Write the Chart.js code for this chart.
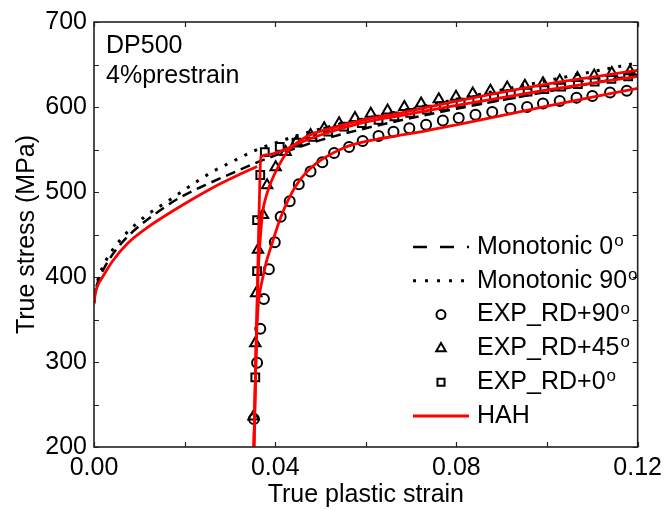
<!DOCTYPE html>
<html>
<head>
<meta charset="utf-8">
<script src="https://cdn.jsdelivr.net/npm/chart.js@4.4.0/dist/chart.umd.min.js"></script>
<style>
  html, body { margin: 0; padding: 0; background: #fff; }
  #wrap { width: 668px; height: 510px; }
</style>
</head>
<body>
<div id="wrap"><canvas id="c"></canvas></div>
<script>
// axis ticks
const xTickValues = [0, 0.04, 0.08, 0.12];
const yTickValues = [200, 300, 400, 500, 600, 700];

// monotonic curves
const mono0Strain = [0, 0.0003, 0.001, 0.0025, 0.005, 0.0085, 0.0137, 0.0188, 0.0245, 0.030, 0.0356, 0.04, 0.05, 0.06, 0.07, 0.08, 0.09, 0.10, 0.11, 0.12];
const mono0Stress = [370, 383, 396, 413, 433, 453, 475, 493, 508, 521, 534, 543, 561, 575, 587, 598, 608, 618, 628, 638];
const mono90Strain = [0, 0.0003, 0.001, 0.0025, 0.0057, 0.0110, 0.0168, 0.0209, 0.0262, 0.0310, 0.0356, 0.0391, 0.0465, 0.056, 0.0668, 0.08, 0.10, 0.12];
const mono90Stress = [370, 384, 399, 418, 443, 470, 491, 506, 524, 537, 549, 556, 569, 582, 594, 609, 631, 652];

// HAH model
const hahPreStrain = [0, 0.0003, 0.001, 0.0019, 0.004, 0.0075, 0.012, 0.0172, 0.0262, 0.0319, 0.0360];
const hahPreStress = [368, 381, 392, 400, 418, 440, 459, 477, 505, 520, 530];
const hah0Strain = [0.0353, 0.0358, 0.0362, 0.0365, 0.0368, 0.0385, 0.0412, 0.0450, 0.0500, 0.0560, 0.0624, 0.0668, 0.08, 0.10, 0.12];
const hah0Stress = [200, 320, 420, 490, 541, 544, 548, 557, 567, 577, 585, 589, 602, 620, 636];
const hah45Strain = [0.0353, 0.0358, 0.0362, 0.0367, 0.0372, 0.0380, 0.0391, 0.0410, 0.0428, 0.0465, 0.0537, 0.0624, 0.0668, 0.08, 0.10, 0.12];
const hah45Stress = [200, 320, 400, 445, 475, 495, 512, 533, 548, 564, 577, 588, 592, 607, 627, 643];
const hah90Strain = [0.0353, 0.0358, 0.0363, 0.0367, 0.0370, 0.0380, 0.0391, 0.0412, 0.0443, 0.0478, 0.0552, 0.0624, 0.0668, 0.0733, 0.08, 0.10, 0.12];
const hah90Stress = [200, 320, 370, 385, 393, 417, 436, 470, 505, 528, 552, 562, 566, 572, 579, 601, 622];

// experiments
const exp90Strain = [0.0353, 0.0360, 0.0367, 0.0375, 0.0386, 0.0399, 0.0412, 0.0432, 0.0452, 0.0478, 0.0504, 0.0530, 0.0563, 0.0593, 0.0628, 0.0661, 0.0696, 0.0733, 0.0770, 0.0805, 0.0842, 0.0879, 0.0919, 0.0956, 0.0991, 0.1028, 0.1065, 0.1100, 0.1139, 0.1176];
const exp90Stress = [233, 299, 339, 374, 409, 441, 471, 489, 509, 524, 535, 546, 553, 560, 566, 571, 575, 579, 584, 587, 591, 594, 598, 600, 604, 607, 611, 613, 617, 619];
const exp45Strain = [0.0352, 0.0356, 0.0358, 0.0362, 0.0373, 0.0382, 0.0401, 0.0423, 0.0447, 0.0478, 0.0508, 0.0541, 0.0576, 0.0611, 0.0648, 0.0685, 0.0722, 0.0761, 0.0799, 0.0836, 0.0875, 0.0912, 0.0951, 0.0991, 0.1028, 0.1067, 0.1104, 0.1143, 0.1183];
const exp45Stress = [236, 322, 381, 432, 473, 508, 529, 547, 559, 567, 575, 581, 587, 592, 596, 600, 604, 609, 612, 616, 619, 623, 625, 628, 631, 634, 637, 640, 642];
const exp0Strain = [0.0356, 0.0360, 0.0360, 0.0367, 0.0377, 0.0410, 0.0447, 0.0482, 0.0517, 0.0552, 0.0591, 0.0628, 0.0663, 0.0698, 0.0735, 0.0772, 0.0809, 0.0846, 0.0883, 0.0920, 0.0957, 0.0994, 0.1031, 0.1068, 0.1105, 0.1142, 0.1179];
const exp0Stress = [282, 407, 467, 520, 547, 553, 558, 565, 571, 577, 581, 585, 589, 593, 597, 601, 605, 608, 612, 615, 618, 621, 624, 627, 630, 633, 636];

const legendNames = ['Monotonic 0', 'Monotonic 90', 'EXP_RD+90', 'EXP_RD+45', 'EXP_RD+0', 'HAH'];
const legendSup = ['o', 'o', 'o', 'o', 'o', ''];

const FONT = '"Liberation Sans", Arial, sans-serif';
const RED = '#ff0000';

function pts(xs, ys) {
  return xs.map((x, i) => ({ x: x, y: ys[i] }));
}

function curve(xs, ys, color, width, dash, order) {
  return {
    type: 'line', data: pts(xs, ys), showLine: true,
    borderColor: color, borderWidth: width, borderDash: dash,
    pointRadius: 0, fill: false, cubicInterpolationMode: 'monotone', order: order
  };
}

function markers(xs, ys, style, r) {
  return {
    data: pts(xs, ys), showLine: false, pointStyle: style, pointRadius: r,
    borderColor: '#000', borderWidth: 2, backgroundColor: 'rgba(0,0,0,0)', order: 1
  };
}

const datasets = [
  curve(mono0Strain, mono0Stress, '#000', 2.5, [10, 6], 2),
  curve(mono90Strain, mono90Stress, '#000', 3, [3, 8], 2),
  markers(exp90Strain, exp90Stress, 'circle', 5),
  markers(exp45Strain, exp45Stress, 'triangle', 6),
  markers(exp0Strain, exp0Stress, 'rect', 5.5),
  curve(hahPreStrain, hahPreStress, RED, 2.8, [], 0),
  curve(hah0Strain, hah0Stress, RED, 2.8, [], 0),
  curve(hah45Strain, hah45Stress, RED, 2.8, [], 0),
  curve(hah90Strain, hah90Stress, RED, 2.8, [], 0)
];

// frame, inward ticks, texts and legend
const decor = {
  id: 'decor',
  afterDatasetsDraw(chart) {
    const ctx = chart.ctx, a = chart.chartArea;
    const xs = chart.scales.x, ys = chart.scales.y;
    ctx.save();
    ctx.strokeStyle = '#222';
    ctx.lineWidth = 1.6;
    ctx.strokeRect(a.left, a.top, a.right - a.left, a.bottom - a.top);
    ctx.lineWidth = 1.2;
    ctx.beginPath();
    for (let v = 0; v <= 0.12 + 1e-9; v += 0.02) {
      const px = Math.round(xs.getPixelForValue(v)) + 0.5;
      ctx.moveTo(px, a.bottom); ctx.lineTo(px, a.bottom - 5);
      ctx.moveTo(px, a.top); ctx.lineTo(px, a.top + 5);
    }
    for (let v = 200; v <= 700; v += 50) {
      const py = Math.round(ys.getPixelForValue(v)) + 0.5;
      ctx.moveTo(a.left, py); ctx.lineTo(a.left + 5, py);
      ctx.moveTo(a.right, py); ctx.lineTo(a.right - 5, py);
    }
    ctx.stroke();
    ctx.restore();
  },
  afterDraw(chart) {
    const ctx = chart.ctx, a = chart.chartArea;
    ctx.save();
    ctx.fillStyle = '#000';
    ctx.font = '25px ' + FONT;
    ctx.textBaseline = 'alphabetic';
    ctx.textAlign = 'left';
    ctx.fillText('DP500', a.left + 12, 53);
    ctx.fillText('4%prestrain', a.left + 12, 83);

    ctx.textAlign = 'center';
    ctx.textBaseline = 'middle';
    ctx.fillText('True plastic strain', (a.left + a.right) / 2, 495);
    ctx.save();
    ctx.translate(27, (a.top + a.bottom) / 2);
    ctx.rotate(-Math.PI / 2);
    ctx.fillText('True stress (MPa)', 0, 0);
    ctx.restore();

    // legend
    const samples = [datasets[0], datasets[1], datasets[2], datasets[3], datasets[4], datasets[5]];
    for (let i = 0; i < legendNames.length; i++) {
      const y = 247 + i * 33.8;
      const d = samples[i];
      if (d.showLine) {
        ctx.save();
        ctx.strokeStyle = d.borderColor;
        ctx.lineWidth = d.borderWidth;
        ctx.setLineDash(d.borderDash.length ? [14, 13] : []);
        if (d.borderDash[0] === 3) ctx.setLineDash([3, 9]);
        ctx.beginPath();
        ctx.moveTo(413, y); ctx.lineTo(469, y);
        ctx.stroke();
        ctx.restore();
      } else {
        ctx.save();
        ctx.strokeStyle = '#000';
        ctx.fillStyle = 'rgba(0,0,0,0)';
        ctx.lineWidth = 2;
        Chart.helpers.drawPoint(ctx, { pointStyle: d.pointStyle, radius: d.pointRadius - 0.5, rotation: 0, borderWidth: 2 }, 441, y);
        ctx.restore();
      }
      ctx.font = '25px ' + FONT;
      ctx.textAlign = 'left';
      ctx.textBaseline = 'middle';
      ctx.fillText(legendNames[i], 477, y);
      if (legendSup[i]) {
        const w = ctx.measureText(legendNames[i]).width;
        ctx.font = '17px ' + FONT;
        ctx.textBaseline = 'alphabetic';
        ctx.fillText(legendSup[i], 477 + w + 1, y - 1);
      }
    }
    ctx.restore();
  }
};

new Chart(document.getElementById('c'), {
  type: 'scatter',
  data: { datasets: datasets },
  options: {
    responsive: true,
    maintainAspectRatio: false,
    animation: false,
    layout: { padding: { left: 0, right: 24, top: 22, bottom: 0 } },
    plugins: { legend: { display: false }, tooltip: { enabled: false } },
    scales: {
      x: {
        type: 'linear', min: 0, max: 0.12,
        grid: { display: false, drawTicks: false },
        border: { display: false },
        afterBuildTicks: s => { s.ticks = xTickValues.map(v => ({ value: v })); },
        afterFit: s => { s.height = 63; },
        ticks: { color: '#000', font: { family: FONT, size: 25 }, padding: 6, maxRotation: 0,
                 callback: v => Number(v).toFixed(2) }
      },
      y: {
        type: 'linear', min: 200, max: 700,
        grid: { display: false, drawTicks: false },
        border: { display: false },
        afterBuildTicks: s => { s.ticks = yTickValues.map(v => ({ value: v })); },
        afterFit: s => { s.width = 94; },
        ticks: { color: '#000', font: { family: FONT, size: 25 }, padding: 7,
                 callback: v => String(v) }
      }
    }
  },
  plugins: [decor]
});
</script>
</body>
</html>
